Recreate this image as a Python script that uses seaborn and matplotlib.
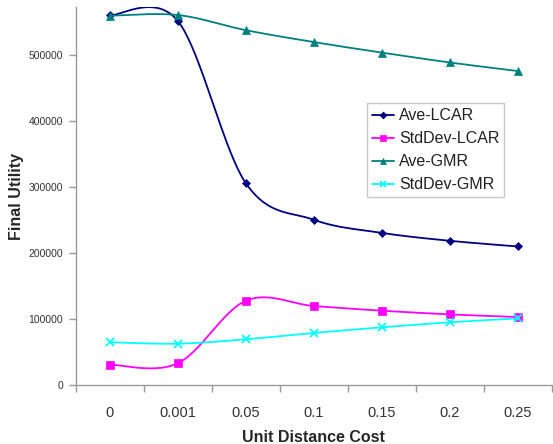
import numpy as np
import pandas as pd
import matplotlib
matplotlib.use("Agg")
import matplotlib.pyplot as plt
from matplotlib.lines import Line2D
import seaborn as sns

# Datos
costes = ["0", "0.001", "0.05", "0.1", "0.15", "0.2", "0.25"]
ave_lcar = [560600, 552000, 306000, 250500, 230600, 218600, 210000]
std_lcar = [30800, 32800, 127700, 119700, 112600, 107000, 103000]
ave_gmr = [560000, 561000, 538000, 520000, 504000, 489000, 476000]
std_gmr = [64700, 62600, 69200, 78800, 87400, 95000, 101000]

series = [
    ("Ave-LCAR", ave_lcar, "#000080", "D", 4.5),
    ("StdDev-LCAR", std_lcar, "#FF00FF", "s", 5.5),
    ("Ave-GMR", ave_gmr, "#008080", "^", 5.5),
    ("StdDev-GMR", std_gmr, "#00FFFF", "x", 5.5),
]


# Suavizado tipo Excel (Bezier con puntos de control de Catmull-Rom)
def suavizar(vals, n=40):
    x = np.arange(len(vals), dtype=float)
    y = np.asarray(vals, dtype=float)
    px = np.concatenate([[x[0]], x, [x[-1]]])
    py = np.concatenate([[y[0]], y, [y[-1]]])
    t = np.linspace(0, 1, n)
    xs, ys = [], []
    for i in range(1, len(px) - 2):
        p1 = np.array([px[i], py[i]])
        p2 = np.array([px[i + 1], py[i + 1]])
        c1 = p1 + (np.array([px[i + 1], py[i + 1]]) - np.array([px[i - 1], py[i - 1]])) / 6
        c2 = p2 - (np.array([px[i + 2], py[i + 2]]) - np.array([px[i], py[i]])) / 6
        b = ((1 - t) ** 3)[:, None] * p1 + (3 * (1 - t) ** 2 * t)[:, None] * c1 \
            + (3 * (1 - t) * t ** 2)[:, None] * c2 + (t ** 3)[:, None] * p2
        xs.extend(b[:, 0])
        ys.extend(b[:, 1])
    return np.array(xs), np.array(ys)


sns.set_theme(style="white")
plt.rcParams['font.family'] = ['Liberation Sans', 'DejaVu Sans']

fig = plt.figure(figsize=(5.53, 4.44), dpi=100)
ax = fig.add_axes([0.137, 0.133, 0.861, 0.851])

handles = []
for nombre, vals, color, marca, ms in series:
    xs, ys = suavizar(vals)
    df = pd.DataFrame({"x": xs, "y": ys})
    sns.lineplot(data=df, x="x", y="y", color=color, linewidth=1.3, sort=False,
                 estimator=None, ax=ax)
    ax.plot(range(len(vals)), vals, linestyle="none", marker=marca, markersize=ms,
            color=color, markeredgewidth=1.3 if marca == "x" else 0.5)
    handles.append(Line2D([], [], color=color, linewidth=1.3, marker=marca,
                          markersize=ms - 1, markeredgewidth=1.2 if marca == "x" else 0.5))

ax.set_xlim(-0.5, 6.5)
ax.set_ylim(0, 573000)
ax.set_xticks(range(len(costes)))
ax.set_xticklabels(costes, fontsize=10.5, color="#333333")
ax.set_xticks(np.arange(-0.5, 6.6, 1), minor=True)
ax.tick_params(axis="x", which="major", length=0, pad=15)
ax.tick_params(axis="x", which="minor", length=5, width=1, color="#999999",
               direction="out", bottom=True)
ax.set_yticks(range(0, 500001, 100000))
ax.set_yticklabels([str(v) for v in range(0, 500001, 100000)], fontsize=7.5, color="#333333")
ax.tick_params(axis="y", length=5, width=1, color="#999999", direction="out", left=True, pad=4)

for lado in ["top", "right"]:
    ax.spines[lado].set_visible(False)
for lado in ["left", "bottom"]:
    ax.spines[lado].set_color("#999999")
    ax.spines[lado].set_linewidth(1)

ax.set_xlabel("Unit Distance Cost", fontsize=11.5, fontweight="bold", labelpad=7)
ax.set_ylabel("Final Utility", fontsize=11.5, fontweight="bold", labelpad=3)

leg = ax.legend(handles, [s[0] for s in series], loc="upper left",
                bbox_to_anchor=(0.612, 0.745), fontsize=11.5, frameon=True,
                fancybox=False, handlelength=1.4, handletextpad=0.3,
                borderpad=0.3, labelspacing=0.5, borderaxespad=0)
leg.get_frame().set_edgecolor("#BBBBBB")
leg.get_frame().set_linewidth(1)
for txt in leg.get_texts():
    txt.set_color("#222222")

plt.savefig("out.png", dpi=100)
